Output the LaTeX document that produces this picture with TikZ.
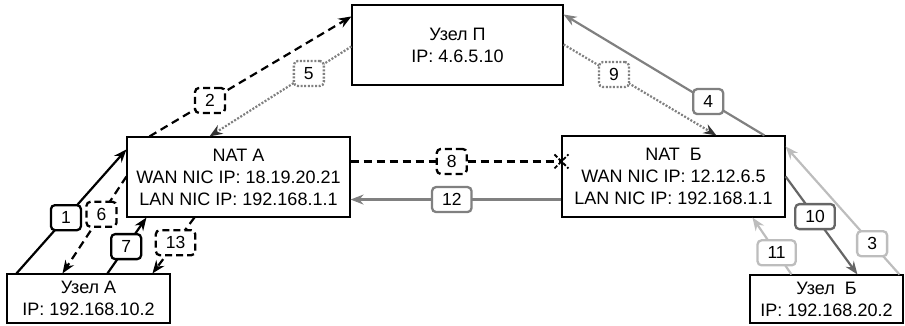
\documentclass[tikz,border=0pt]{standalone}
\usepackage{fontspec}
\setmainfont{Liberation Sans}
\usetikzlibrary{arrows.meta,calc}
\definecolor{gA}{HTML}{808080}
\definecolor{gB}{HTML}{666666}
\definecolor{gC}{HTML}{BDBDBD}
\definecolor{gD}{HTML}{333333}
\tikzset{
  hostbox/.style={draw=black,line width=1.1pt,fill=white,align=center,font=\fontsize{18}{22}\selectfont,inner sep=0pt},
  lbl/.style={draw,rounded corners=4pt,line width=2.3pt,fill=white,font=\fontsize{17.5}{17.5}\selectfont,inner xsep=10pt,inner ysep=0pt,minimum height=25pt,minimum width=30pt},
  tip/.style={-{Stealth[length=13pt,width=10pt]}},
  dtip/.style={-{Stealth[length=13pt,width=10pt,color=gD]}},
  conn/.style={line width=2.2pt},
  dsh/.style={dash pattern=on 8pt off 5pt},
  ldsh/.style={dash pattern=on 7pt off 4pt},
  dtt/.style={dash pattern=on 2pt off 1.6pt},
}
\begin{document}
\begin{tikzpicture}[x=1pt,y=-1pt]
\useasboundingbox (0,0) rectangle (905,326);
\node[hostbox,minimum width=211pt,minimum height=80pt] (P) at (457.5,45) {Узел П\\IP: 4.6.5.10};
\node[hostbox,minimum width=223pt,minimum height=80pt] (NA) at (238.5,177) {NAT A\\WAN NIC IP: 18.19.20.21\\LAN NIC IP: 192.168.1.1};
\node[hostbox,minimum width=223pt,minimum height=81pt] (NB) at (673.5,176.5) {NAT \ Б\\WAN NIC IP: 12.12.6.5\\LAN NIC IP: 192.168.1.1};
\node[hostbox,minimum width=163pt,minimum height=49pt] (UA) at (88.5,298.5) {Узел А\\IP: 192.168.10.2};
\node[hostbox,minimum width=153pt,minimum height=48pt] (UB) at (826.5,299) {Узел \ Б\\IP: 192.168.20.2};

% 1
\draw[conn,tip,black] ($(UA.north west)+(10,0)$) -- node[lbl,pos=0.45,draw=black]{1} ($(NA.north west)+(0,13)$);
% 6
\draw[conn,tip,black,dsh] ($(NA.north west)+(0,40)$) -- node[lbl,pos=0.39,draw=black,ldsh]{6} ($(UA.north west)+(56,0)$);
% 7
\draw[conn,tip,black] ($(UA.north west)+(101,0)$) -- node[lbl,pos=0.48,draw=black]{7} ($(NA.south west)+(20,0)$);
% 13
\draw[conn,tip,black,dsh] ($(NA.south west)+(68,0)$) -- node[lbl,pos=0.45,draw=black,ldsh]{13} ($(UA.north west)+(146,0)$);
% 2
\draw[conn,tip,black,dsh] ($(NA.north west)+(23,0)$) -- node[lbl,pos=0.3,draw=black,ldsh]{2} ($(P.north west)+(0,12)$);
% 5
\draw[conn,gA,dtt,dtip] ($(P.north west)+(0,42)$) -- node[lbl,pos=0.3,draw=gA,dtt,text=black]{5} ($(NA.north west)+(83,0)$);
% 9
\draw[conn,gA,dtt,dtip] ($(P.north east)+(0,40)$) -- node[lbl,pos=0.33,draw=gA,dtt,text=black]{9} ($(NB.north west)+(155,0)$);
% 4
\draw[conn,tip,gA] ($(NB.north west)+(203,0)$) -- node[lbl,pos=0.28,draw=gA,text=black]{4} ($(P.north east)+(0,10)$);
% 8
\draw[conn,black,dsh] ($(NA.north east)+(0,25)$) -- node[lbl,pos=0.48,draw=black,ldsh]{8} ($(NB.north west)+(0,26)$) coordinate (X8);
\draw[line width=1.8pt,black,dash pattern=on 4pt off 2pt] ($(X8)+(-7,-7)$) -- ($(X8)+(7,7)$);
\draw[line width=1.8pt,black,dash pattern=on 4pt off 2pt] ($(X8)+(-7,7)$) -- ($(X8)+(7,-7)$);
% 12
\draw[conn,tip,gA] ($(NB.south west)+(0,-18)$) -- node[lbl,pos=0.52,draw=gA,text=black]{12} ($(NA.south east)+(0,-18)$);
% 10
\draw[conn,tip,gB] ($(NB.north east)+(0,41)$) -- node[lbl,pos=0.41,draw=gB,text=black]{10} ($(UB.north west)+(108,0)$);
% 3
\draw[conn,tip,gC] ($(UB.north west)+(150,0)$) -- node[lbl,pos=0.24,draw=gC,text=black]{3} ($(NB.north east)+(0,11)$);
% 11
\draw[conn,tip,gC] ($(UB.north west)+(42,0)$) -- node[lbl,pos=0.38,draw=gC,text=black]{11} ($(NB.south west)+(191,0)$);
\end{tikzpicture}
\end{document}
